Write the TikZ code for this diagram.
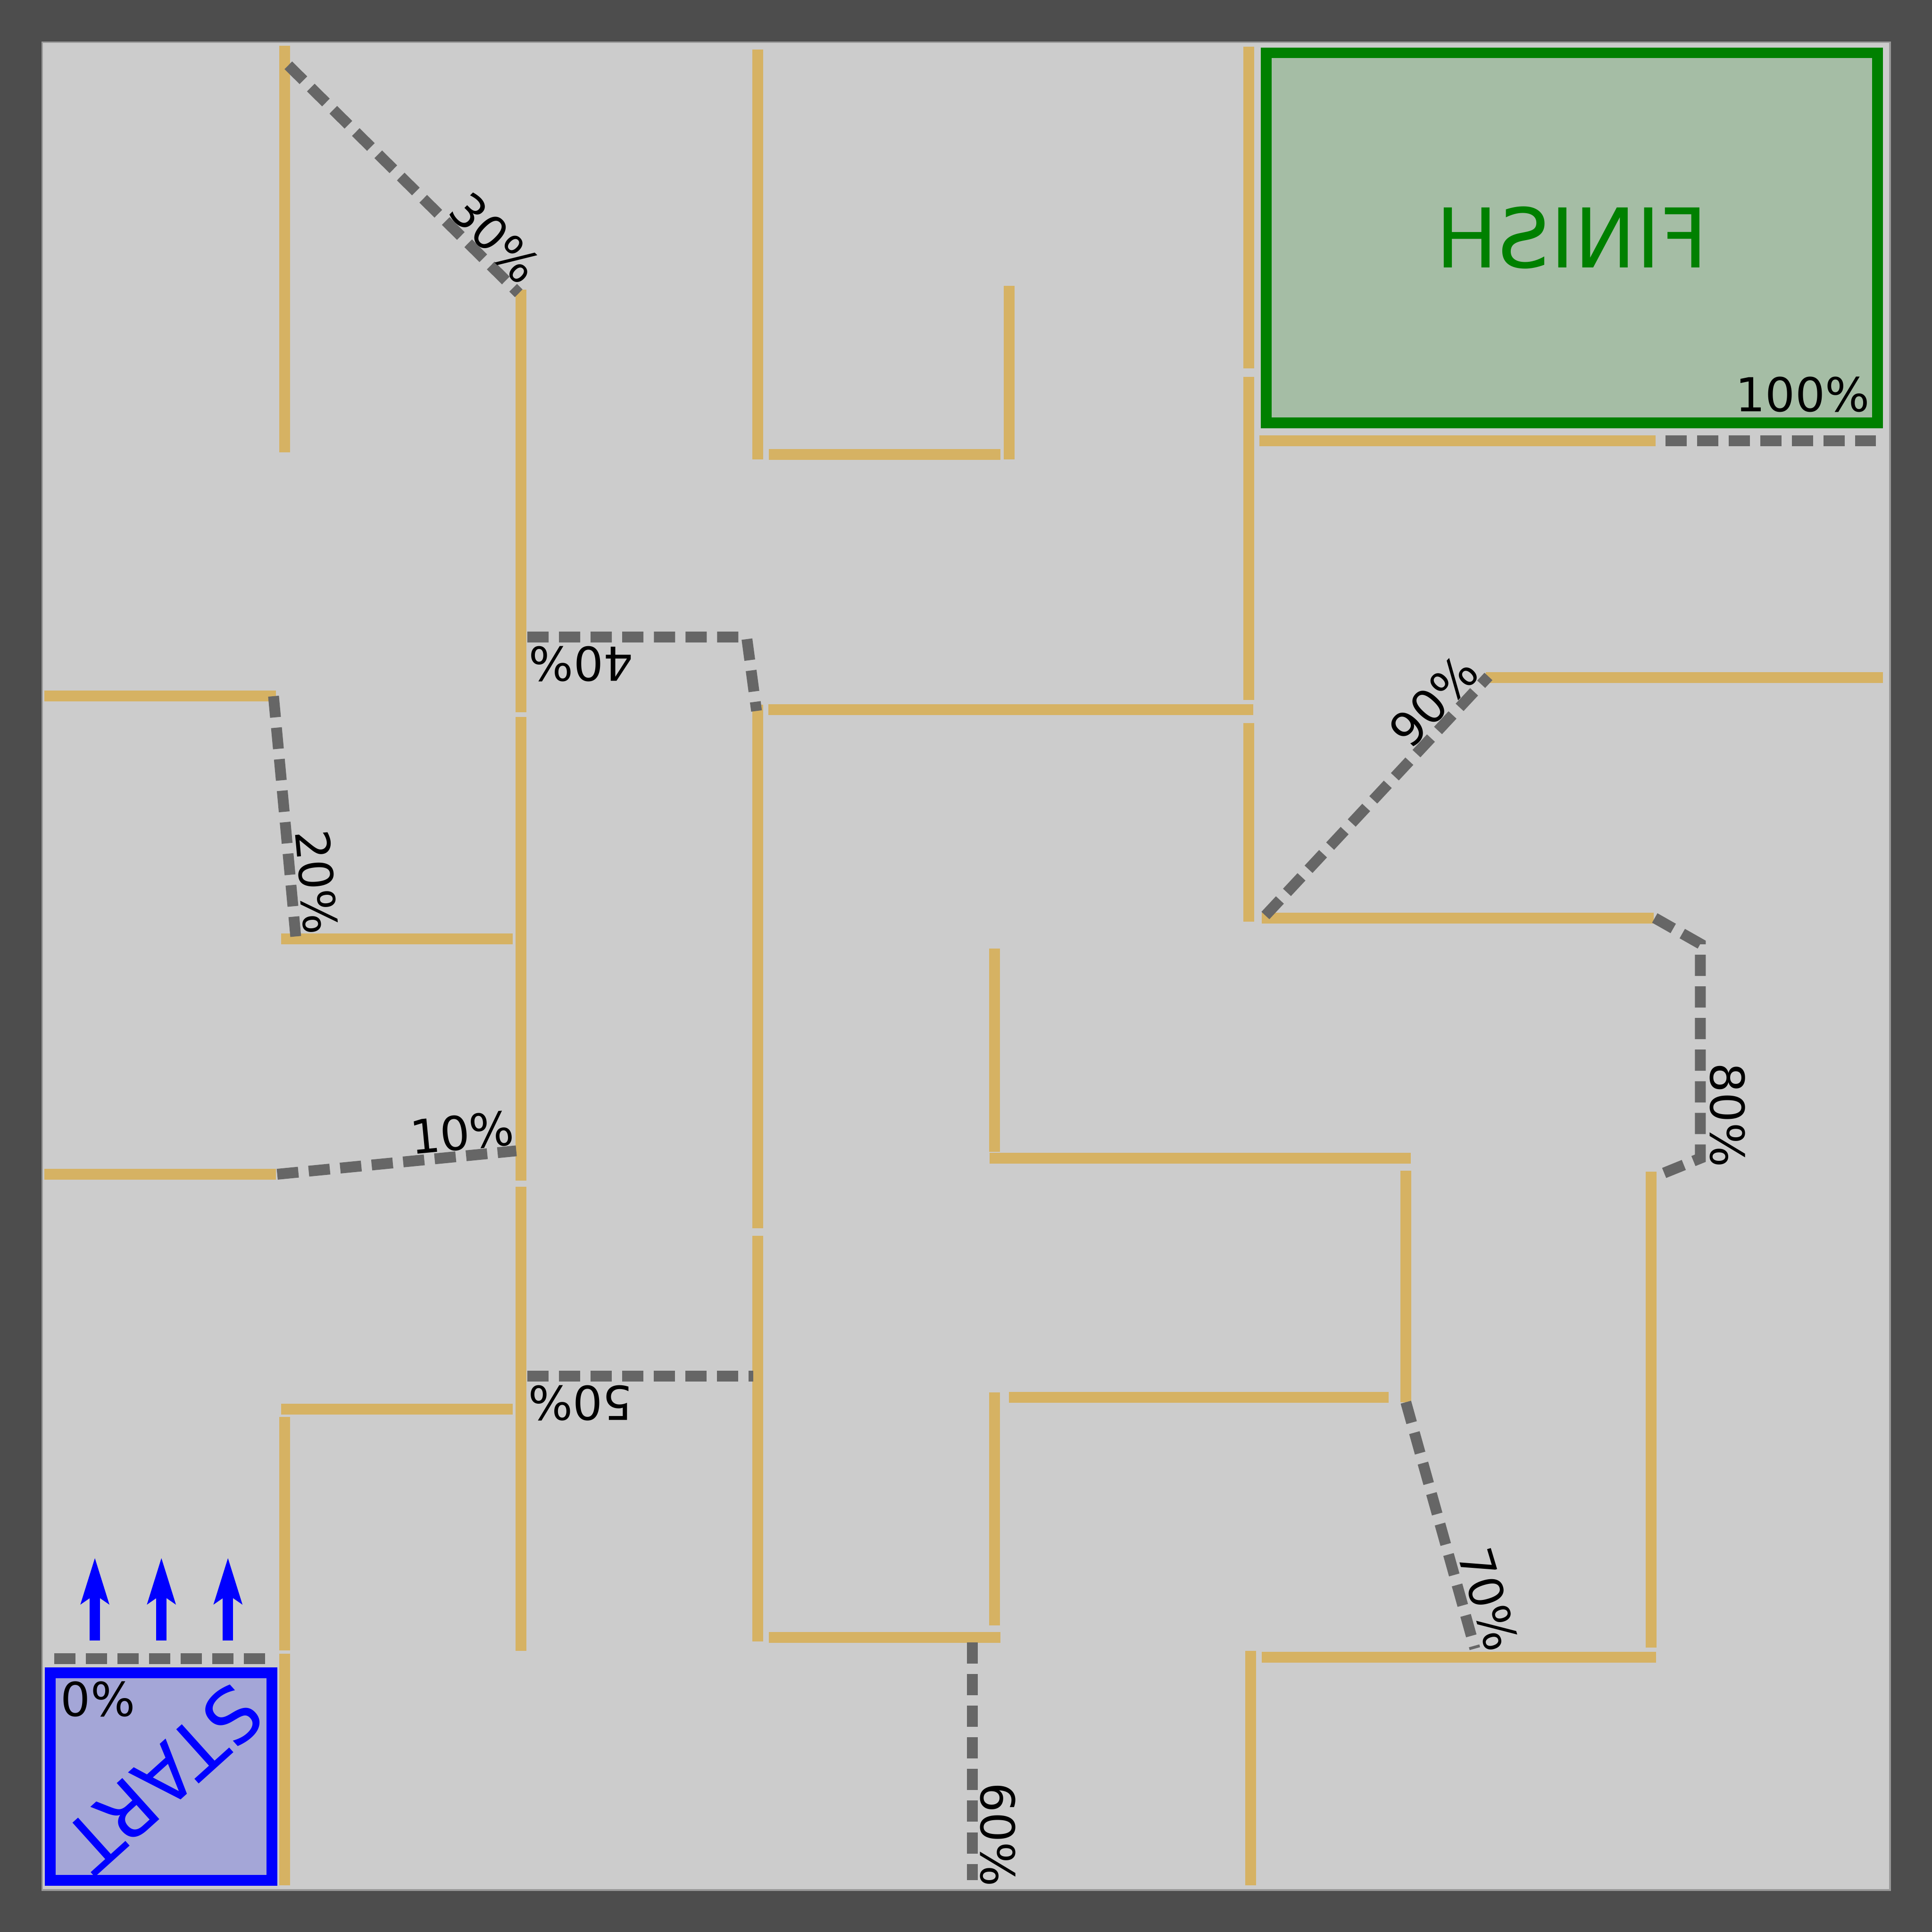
\documentclass[tikz,border=0pt]{standalone}
\usepackage{fontspec}
\setmainfont{DejaVu Sans}
\usetikzlibrary{arrows.meta}

\definecolor{framec}{HTML}{4D4D4D}
\definecolor{floorc}{HTML}{CCCCCC}
\definecolor{edgec}{HTML}{999999}
\definecolor{wallc}{HTML}{D6B263}
\definecolor{routec}{HTML}{666666}
\definecolor{startfill}{HTML}{A4A6D7}
\definecolor{finishfill}{HTML}{A5BDA5}
\definecolor{finishc}{HTML}{008000}

\tikzset{
  wall/.style={draw=wallc, line width=2.5pt},
  route/.style={draw=routec, line width=2.5pt, dash pattern=on 4.9pt off 2.4pt},
  pct/.style={inner sep=0pt, font=\fontsize{10.8}{13}\selectfont},
  bigtxt/.style={inner sep=0pt, font=\fontsize{19}{22}\selectfont},
  uparrow/.style={draw=blue, line width=2.4pt, -{Stealth[length=3.7mm,width=2.2mm,inset=0.7mm]}}
}

\begin{document}
\begin{tikzpicture}[x=0.01cm,y=-0.01cm]
\useasboundingbox (0,0) rectangle (1568,1568);
\fill[framec] (0,0) rectangle (1568,1568);
\filldraw[fill=floorc, draw=edgec, line width=0.4pt] (34.2,34.2) rectangle (1534,1533.8);

% walls
\draw[wall] (231,37) -- (231,367);
\draw[wall] (423,235) -- (423,578);
\draw[wall] (423,582) -- (423,958);
\draw[wall] (423,963) -- (423,1340);
\draw[wall] (231,1150) -- (231,1339.5);
\draw[wall] (231,1342) -- (231,1530);
\draw[wall] (615,40) -- (615,373);
\draw[wall] (819,232) -- (819,373);
\draw[wall] (615,572) -- (615,997);
\draw[wall] (615,1003) -- (615,1332);
\draw[wall] (1013.5,38) -- (1013.5,299);
\draw[wall] (1013.5,306) -- (1013.5,568);
\draw[wall] (1013.5,587) -- (1013.5,748);
\draw[wall] (807,770) -- (807,935);
\draw[wall] (807,1130) -- (807,1319);
\draw[wall] (1141,950) -- (1141,1138);
\draw[wall] (1340,951) -- (1340,1337);
\draw[wall] (1015,1340) -- (1015,1530);

\draw[wall] (36,565) -- (224,565);
\draw[wall] (228,762) -- (416,762);
\draw[wall] (36,953) -- (224,953);
\draw[wall] (228,1143.5) -- (416,1143.5);
\draw[wall] (624,369) -- (812,369);
\draw[wall] (623.7,576) -- (1017,576);
\draw[wall] (624,1329) -- (812,1329);
\draw[wall] (1022,357.8) -- (1343.5,357.8);
\draw[wall] (1024,745) -- (1342,745);
\draw[wall] (1206,550) -- (1528,550);
\draw[wall] (803,940) -- (1145,940);
\draw[wall] (819,1134) -- (1127,1134);
\draw[wall] (1024,1345) -- (1344,1345);

% start and finish
\filldraw[fill=startfill, draw=blue, line width=2.45pt] (40.7,1357.6) rectangle (220.7,1526);
\filldraw[fill=finishfill, draw=finishc, line width=2.45pt] (1027.7,42.8) rectangle (1523.8,343.2);
\node[bigtxt, font=\fontsize{17.5}{21}\selectfont, text=blue, rotate=222] (start) at (133,1443) {START};
\node[bigtxt, text=finishc, xscale=-1] (finish) at (1275.7,193) {FINISH};

\path
(77,1331.5) coordinate (s1) (77,1264) coordinate (t1)
(131,1331.5) coordinate (s2) (131,1264) coordinate (t2)
(185,1331.5) coordinate (s3) (185,1264) coordinate (t3);
\draw[uparrow] (s1) -- (t1);
\draw[uparrow] (s2) -- (t2);
\draw[uparrow] (s3) -- (t3);

% checkpoints
\path
(44,1346.3) coordinate (p0a) (215,1346.3) coordinate (p0b)
(225,953) coordinate (p10a) (419,934) coordinate (p10b)
(222,565) coordinate (p20a) (240,760) coordinate (p20b)
(234,53) coordinate (p30a) (421,238) coordinate (p30b)
(428,517) coordinate (p40a) (606,517) coordinate (p40b) (614,577) coordinate (p40c)
(428,1117) coordinate (p50a) (611.5,1117) coordinate (p50b)
(789,1333) coordinate (p60a) (789,1526) coordinate (p60b)
(1141,1138) coordinate (p70a) (1197,1338) coordinate (p70b)
(1343,745) coordinate (p80a) (1380,766) coordinate (p80b) (1380,940) coordinate (p80c) (1348,953) coordinate (p80d)
(1027,743) coordinate (p90a) (1208,549) coordinate (p90b)
(1351.6,357.8) coordinate (p100a) (1522.5,357.8) coordinate (p100b);
\draw[route] (p0a) -- (p0b);
\draw[route] (p10a) -- (p10b);
\draw[route] (p20a) -- (p20b);
\draw[route] (p30a) -- (p30b);
\draw[route] (p40a) -- (p40b) -- (p40c);
\draw[route] (p50a) -- (p50b);
\draw[route] (p60a) -- (p60b);
\draw[route] (p70a) -- (p70b);
\draw[route] (p80a) -- (p80b) -- (p80c) -- (p80d);
\draw[route] (p90a) -- (p90b);
\draw[route] (p100a) -- (p100b);

\path
(79.5,1379) node[pct] (l0) {0\%}
(375,919) node[pct, rotate=5.5] (l10) {10\%}
(257,716) node[pct, rotate=-84.7] (l20) {20\%}
(402,193) node[pct, rotate=-45] (l30) {30\%}
(471.6,538.8) node[pct, rotate=180] (l40) {40\%}
(471,1138.7) node[pct, rotate=180] (l50) {50\%}
(810,1489) node[pct, rotate=-90] (l60) {60\%}
(1208,1298) node[pct, rotate=-73.3] (l70) {70\%}
(1402,905) node[pct, rotate=-90] (l80) {80\%}
(1163.5,569) node[pct, rotate=47] (l90) {90\%}
(1463,320) node[pct] (l100) {100\%};
\end{tikzpicture}
\end{document}
